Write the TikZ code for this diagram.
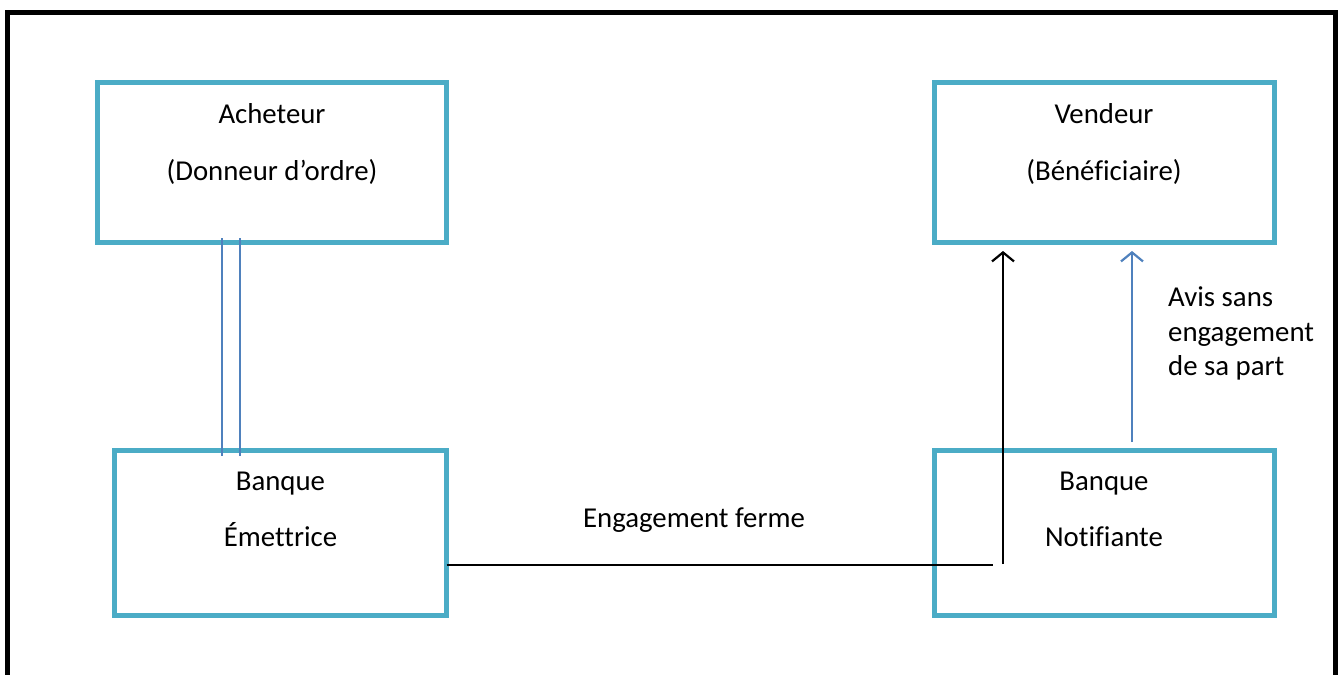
\documentclass[tikz,border=0pt]{standalone}
\usepackage{fontspec}
\setmainfont[Ligatures={NoCommon,NoRare,NoContextual}]{Carlito}
\usetikzlibrary{arrows.meta}
\definecolor{boxblue}{HTML}{4BACC6}
\definecolor{lineblue}{HTML}{4F81BD}
\begin{document}
\begin{tikzpicture}[x=1pt,y=-1pt,
  box/.style={draw=boxblue,line width=5pt,minimum width=#1,inner sep=0pt,outer sep=0pt},
  lbl/.style={anchor=base,inner sep=0pt,font=\fontsize{28.8}{34.5}\selectfont},
  dbl/.style={draw=lineblue,line width=1.6pt},
  barb/.style={-{Straight Barb[length=9pt,width=22pt,line width=2.2pt]}}
]
\useasboundingbox (0,0) rectangle (1342,675);
% outer frame
\draw[line width=5pt] (7.5,700) -- (7.5,12.5) -- (1335.5,12.5) -- (1335.5,700);
% boxes
\node[box=349pt,minimum height=159.5pt] (ach) at (272,162.25) {};
\node[box=340pt,minimum height=159.5pt] (ven) at (1104,162.25) {};
\node[box=332.5pt,minimum height=164.5pt] (em) at (280.25,532.75) {};
\node[box=340pt,minimum height=164.5pt] (no) at (1104,532.75) {};
% texts
\node[lbl] (t1) at (272,123) {Acheteur};
\node[lbl] (t2) at (272,180) {(Donneur d’ordre)};
\node[lbl] (t3) at (1104,123) {Vendeur};
\node[lbl] (t4) at (1104,180) {(Bénéf\kern0pt iciaire)};
\node[lbl] (t5) at (280.5,490) {Banque};
\node[lbl] (t6) at (280.5,546) {Émettrice};
\node[lbl] (t7) at (1104,490) {Banque};
\node[lbl] (t8) at (1104,546) {Not\kern0pt if\kern0pt iante};
\node[lbl] (t9) at (694,527) {Engagement ferme};
\node[anchor=north west,inner sep=0pt,font=\fontsize{28.8}{34.5}\selectfont,align=left] (t10) at (1168,286.5) {Avis sans\\engagement\\de sa part};
% connectors
\coordinate (d1a) at (222,238); \coordinate (d1b) at (222,456);
\coordinate (d2a) at (240,238); \coordinate (d2b) at (240,456);
\draw[dbl] (d1a) -- (d1b);
\draw[dbl] (d2a) -- (d2b);
\coordinate (hl) at (446.5,565); \coordinate (hr) at (993,565);
\draw[line width=1.4pt] (hl) -- (hr);
\coordinate (ba) at (1003,564); \coordinate (bt) at (1003,251);
\draw[line width=2.2pt,barb] (ba) -- (bt);
\coordinate (ua) at (1132,442); \coordinate (ut) at (1132,251);
\draw[line width=2.2pt,draw=lineblue,barb] (ua) -- (ut);
\end{tikzpicture}
\end{document}
